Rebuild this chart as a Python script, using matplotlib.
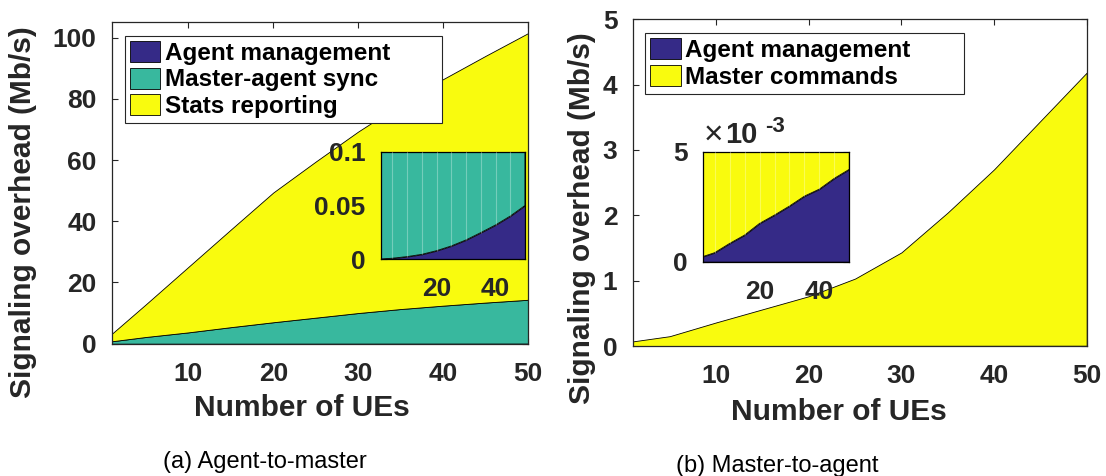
import numpy as np
import matplotlib
matplotlib.use("Agg")
import matplotlib.pyplot as plt

plt.rcParams["font.family"] = ["Liberation Sans", "DejaVu Sans"]

# Number of UEs attached
ues = [1, 5, 10, 15, 20, 25, 30, 35, 40, 45, 50]

# (a) Agent-to-master signaling overhead, Mb/s
a2m_agent_mgmt = [0.0003, 0.001, 0.0025, 0.0046, 0.008, 0.0124, 0.018, 0.0248, 0.0319, 0.0402, 0.050]
a2m_sync = [0.8, 2.2, 3.7, 5.4, 7.0, 8.5, 10.0, 11.3, 12.4, 13.4, 14.3]
a2m_stats = [2.5, 10.7, 21.4, 31.9, 42.4, 51.0, 59.3, 66.9, 74.0, 80.6, 87.1]
a2m_labels = ["Agent management", "Master-agent sync", "Stats reporting"]

# (b) Master-to-agent signaling overhead, Mb/s
m2a_agent_mgmt = [0.00023, 0.00041, 0.00083, 0.00121, 0.00174, 0.00212, 0.00253, 0.00298, 0.00330, 0.00379, 0.00420]
m2a_commands = [0.07, 0.15, 0.36, 0.56, 0.76, 1.03, 1.43, 2.04, 2.70, 3.44, 4.18]
m2a_labels = ["Agent management", "Master commands"]

main_xticks = [10, 20, 30, 40, 50]
inset_xticks = [20, 40]
a2m_yticks = [0, 20, 40, 60, 80, 100]
m2a_yticks = [0, 1, 2, 3, 4, 5]
a2m_inset_yticks = [0, 0.05, 0.1]
a2m_inset_yticklabels = ["0", "0.05", "0.1"]
m2a_inset_yticks = [0, 0.005]
m2a_inset_yticklabels = ["0", "5"]

C_BLUE = "#352A87"
C_TEAL = "#38B89E"
C_YELLOW = "#F9FB0E"
TXT = "#262626"

W, H = 1106, 476
fig = plt.figure(figsize=(W / 100, H / 100), dpi=100)


def box(x0, y0, x1, y1):
    return [x0 / W, 1 - y1 / H, (x1 - x0) / W, (y1 - y0) / H]


def style(ax, xticks, yticks, xpad=13, ypad=11, size=19):
    ax.set_axisbelow(True)
    ax.set_xticks(xticks)
    ax.set_yticks(yticks)
    ax.tick_params(direction="in", length=4, width=0.8, top=True, right=True,
                   color=TXT, labelcolor=TXT, labelsize=size)
    ax.tick_params(axis="x", pad=xpad)
    ax.tick_params(axis="y", pad=ypad)
    for lbl in ax.get_xticklabels() + ax.get_yticklabels():
        lbl.set_fontweight("bold")
    for sp in ax.spines.values():
        sp.set_color(TXT)
        sp.set_linewidth(0.9)


ax1 = fig.add_axes(box(112, 22.3, 528, 343.7))
ax2 = fig.add_axes(box(632.7, 19.3, 1086.7, 346))
in1 = fig.add_axes(box(380.5, 151.7, 525, 259.3))
in2 = fig.add_axes(box(702.7, 151.7, 849.3, 261.7))

edge = dict(edgecolor="black", linewidth=0.6)

# ---- (a) Agent-to-master
polys1 = ax1.stackplot(ues, a2m_agent_mgmt, a2m_sync, a2m_stats,
                       colors=[C_BLUE, C_TEAL, C_YELLOW], labels=a2m_labels, **edge)
ax1.set_xlim(1, 50)
ax1.set_ylim(0, 105)
style(ax1, main_xticks, a2m_yticks)

in1.stackplot(ues, a2m_agent_mgmt, a2m_sync, a2m_stats,
              colors=[C_BLUE, C_TEAL, C_YELLOW], **edge)
in1.vlines(ues[1:-1], a2m_agent_mgmt[1:-1], 1, color="white", alpha=0.3, lw=0.8, zorder=3)
in1.set_xlim(1, 50)
in1.set_ylim(0, 0.1)
style(in1, inset_xticks, a2m_inset_yticks)
in1.set_yticklabels(a2m_inset_yticklabels, fontweight="bold")
for sp in in1.spines.values():
    sp.set_color("black")

# ---- (b) Master-to-agent
polys2 = ax2.stackplot(ues, m2a_agent_mgmt, m2a_commands,
                       colors=[C_BLUE, C_YELLOW], labels=m2a_labels, **edge)
ax2.set_xlim(1, 50)
ax2.set_ylim(0, 5)
style(ax2, main_xticks, m2a_yticks)

in2.stackplot(ues, m2a_agent_mgmt, m2a_commands, colors=[C_BLUE, C_YELLOW], **edge)
in2.vlines(ues[1:-1], m2a_agent_mgmt[1:-1], 1, color="white", alpha=0.3, lw=0.8, zorder=3)
in2.set_xlim(1, 50)
in2.set_ylim(0, 0.005)
style(in2, inset_xticks, m2a_inset_yticks)
in2.set_yticklabels(m2a_inset_yticklabels, fontweight="bold")
for sp in in2.spines.values():
    sp.set_color("black")

# exponent marker above the right inset
fig.text(713.3 / W, 1 - 144 / H, "\u00d7", fontsize=24, fontweight="normal",
         color=TXT, ha="center", va="baseline")
fig.text(741.7 / W, 1 - 143.3 / H, "10", fontsize=21, fontweight="bold",
         color=TXT, ha="center", va="baseline")
fig.text(775.5 / W, 1 - 131.7 / H, "-3", fontsize=16, fontweight="bold",
         color=TXT, ha="center", va="baseline")

# legends
leg_kw = dict(loc="upper left", mode="expand", bbox_transform=fig.transFigure,
              borderaxespad=0, fancybox=False, framealpha=1, edgecolor=TXT,
              prop={"size": 17.5, "weight": "bold"}, handlelength=1.25,
              handleheight=0.95, handletextpad=0.2, labelspacing=0.12,
              borderpad=0.2)
l1 = ax1.legend(handles=polys1, labels=a2m_labels,
                bbox_to_anchor=(125 / W, 1 - 130 / H, (441.6 - 125) / W, (130 - 36) / H),
                **leg_kw)
l2 = ax2.legend(handles=polys2, labels=m2a_labels,
                bbox_to_anchor=(645.3 / W, 1 - 99 / H, (963.6 - 645.3) / W, (99 - 33.3) / H),
                **leg_kw)
for lg in (l1, l2):
    lg.get_frame().set_linewidth(0.8)
    lg.set_zorder(10)

# axis titles
for xc, yb in ((302, 416.5), (839, 419.5)):
    fig.text(xc / W, 1 - yb / H, "Number of UEs", fontsize=21.5, fontweight="bold",
             color=TXT, ha="center", va="baseline")
for xc, yc in ((23, 212), (582, 218)):
    fig.text(xc / W, 1 - yc / H, "Signaling overhead (Mb/s)", fontsize=21.5,
             fontweight="bold", color=TXT, ha="center", va="center", rotation=90)

# sub-figure captions
fig.text(265 / W, 1 - 468 / H, "(a) Agent-to-master", fontsize=17, fontweight="normal",
         color="black", ha="center", va="baseline")
fig.text(777 / W, 1 - 472 / H, "(b) Master-to-agent", fontsize=17, fontweight="normal",
         color="black", ha="center", va="baseline")

fig.savefig("out.png", dpi=100)
